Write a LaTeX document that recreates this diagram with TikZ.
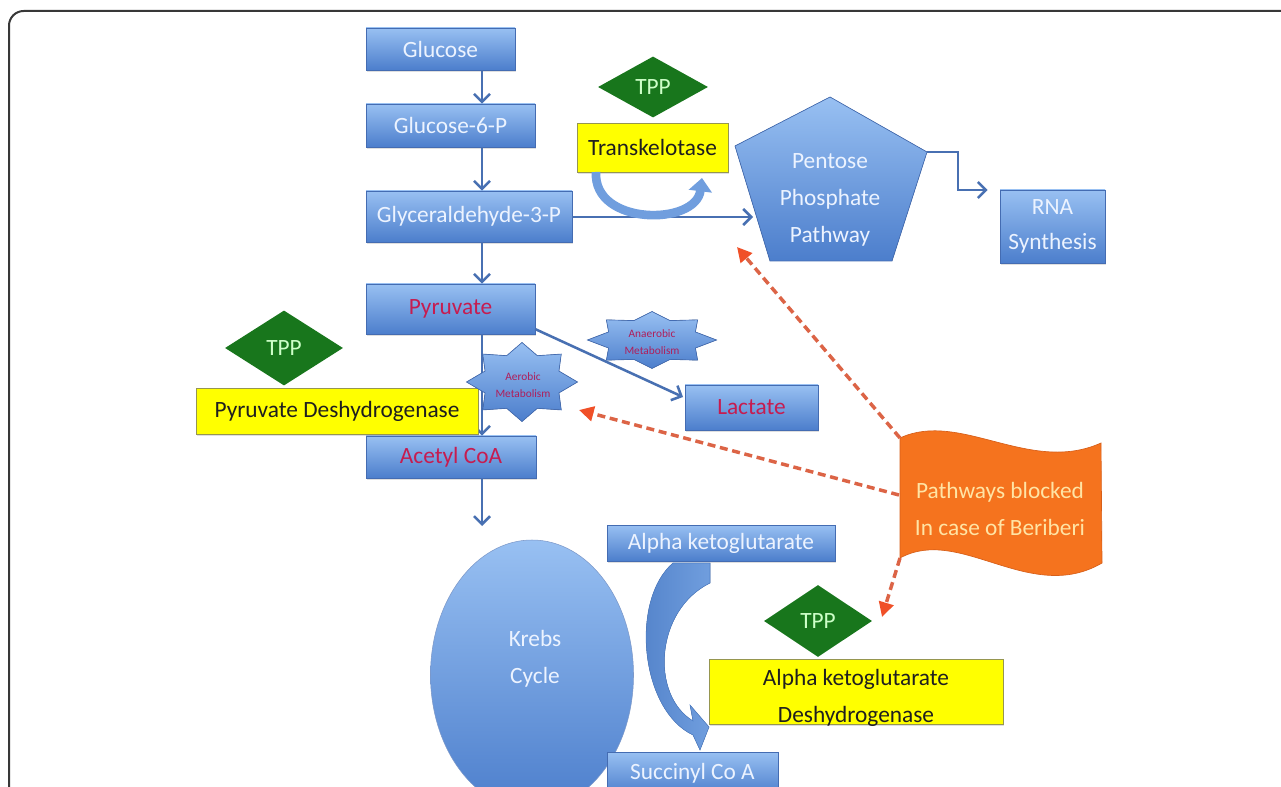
\documentclass[tikz,border=0pt]{standalone}
\usepackage{fontspec}
\setmainfont{Carlito}
\usetikzlibrary{shapes.geometric,arrows.meta,shadows,calc}

\definecolor{bluetop}{RGB}{152,192,242}
\definecolor{bluebot}{RGB}{76,126,204}
\definecolor{blueedge}{RGB}{68,108,178}
\definecolor{linecol}{RGB}{72,112,178}
\definecolor{boxtext}{RGB}{236,243,255}
\definecolor{redtext}{RGB}{198,28,80}
\definecolor{tppfill}{RGB}{24,118,28}
\definecolor{tpptext}{RGB}{205,255,200}
\definecolor{yel}{RGB}{255,255,0}
\definecolor{yeledge}{RGB}{150,150,80}
\definecolor{flagfill}{RGB}{245,115,30}
\definecolor{flagedge}{RGB}{215,95,25}
\definecolor{flagtext}{RGB}{255,228,165}
\definecolor{dashcol}{RGB}{220,100,70}
\definecolor{dashtip}{RGB}{240,80,40}
\definecolor{startext}{RGB}{175,30,90}
\definecolor{curvecol}{RGB}{112,158,222}
\definecolor{curvedark}{RGB}{80,128,200}

\newcommand{\dfont}{\fontsize{17.5}{27.75}\selectfont}
\newcommand{\sfontsmall}{\fontsize{8.5}{13}\selectfont}

\tikzset{
  framesty/.style={draw=black!78, line width=1.5pt, rounded corners=11pt},
  bluebox/.style={draw=blueedge, line width=0.5pt, top color=bluetop, bottom color=bluebot,
    text=boxtext, font=\dfont, inner sep=0pt,
    drop shadow={opacity=0.25, shadow xshift=0.8pt, shadow yshift=-1.5pt}},
  yelbox/.style={draw=yeledge, line width=0.6pt, fill=yel, text=black!88, font=\dfont, inner sep=0pt,
    drop shadow={opacity=0.25, shadow xshift=0.8pt, shadow yshift=-1.5pt}},
  tpp/.style={diamond, aspect=1.8, fill=tppfill, text=tpptext, font=\dfont, inner sep=0pt},
  kreb/.style={ellipse, draw=blueedge!70, line width=0.4pt, top color=bluetop, bottom color=bluebot},
  pentsty/.style={draw=blueedge, line width=0.5pt, top color=bluetop, bottom color=bluebot},
  starsty/.style={draw=blueedge, line width=0.5pt, top color=bluetop, bottom color=bluebot},
  startxt/.style={text=startext, font=\sfontsmall, align=center, inner sep=0pt},
  lighttxt/.style={text=boxtext, font=\dfont, align=center, inner sep=0pt},
  conn/.style={draw=linecol, line width=1.9pt, -{Straight Barb[length=6pt,width=12pt]}},
  curvy/.style={draw=curvecol, line width=6.5pt, -{Triangle[length=10pt,width=17pt]}},
  flagsty/.style={fill=flagfill, draw=flagedge, line width=0.5pt},
  dasharrow/.style={draw=dashcol, line width=2.6pt, dash pattern=on 6pt off 3.5pt,
    -{Triangle[length=11pt,width=11pt,fill=dashtip,color=dashtip]}}
}

\begin{document}
\begin{tikzpicture}[x=0.75pt,y=-0.75pt]
\useasboundingbox (0,0) rectangle (1281,787);
\clip (0,0) rectangle (1281,787);
\fill[white] (0,0) rectangle (1281,787);
\draw[framesty] (9,840) -- (9,11) -- (1330,11);

% ---- Krebs cycle ellipse (behind) ----
\node[kreb, minimum width=152.25pt, minimum height=202.5pt] (krebs) at (532,675) {};
\node[lighttxt] (krebslabel) at (535,659) {Krebs\\Cycle};

% ---- blue boxes ----
\node[bluebox, minimum width=111.75pt, minimum height=31.5pt] (glucose) at (440.5,49) {Glucose};
\node[bluebox, minimum width=126.75pt, minimum height=32.25pt] (g6p) at (450.5,125.5) {Glucose-6-P};
\node[bluebox, minimum width=154.5pt, minimum height=38.25pt] (glyc) at (469,216.5) {Glyceraldehyde-3-P};
\node[bluebox, text=redtext, minimum width=126.75pt, minimum height=37.5pt] (pyr) at (450.5,309) {Pyruvate};
\node[bluebox, text=redtext, minimum width=127.5pt, minimum height=31.5pt] (acetyl) at (451,457) {Acetyl CoA};
\node[bluebox, text=redtext, minimum width=99.75pt, minimum height=33.75pt] (lac) at (751.5,407.5) {Lactate};
\node[bluebox, align=center, font=\fontsize{17.5}{26}\selectfont, minimum width=78.75pt, minimum height=54.75pt] (rna) at (1052.5,226.5) {RNA\\Synthesis};
\node[bluebox, minimum width=171pt, minimum height=27pt] (akg) at (721,543) {Alpha ketoglutarate};
\node[bluebox, minimum width=128.25pt, minimum height=32.25pt] (succ) at (692.5,773.5) {Succinyl Co A};

% ---- pentagon ----
\coordinate (pT) at (830,97);
\coordinate (pR) at (927,152);
\coordinate (pBR) at (892,261);
\coordinate (pBL) at (770,261);
\coordinate (pL) at (735,146);
\filldraw[pentsty] (pT) -- (pR) -- (pBR) -- (pBL) -- (pL) -- cycle;
\node[lighttxt] (ppp) at (830,200) {Pentose\\Phosphate\\Pathway};

% ---- connectors ----
\coordinate (vx) at (482,0);
\draw[conn] (glucose.south -| vx) -- (g6p.north -| vx);
\draw[conn] (g6p.south -| vx) -- (glyc.north -| vx);
\draw[conn] (glyc.south -| vx) -- (pyr.north -| vx);
\draw[conn] (pyr.south -| vx) -- (acetyl.north -| vx);
\coordinate (kin) at (482,526);
\draw[conn] (acetyl.south -| vx) -- (kin);
\coordinate (gy) at (0,217);
\coordinate (pentin) at (753,217);
\draw[conn] (glyc.east |- gy) -- (pentin);
\coordinate (ry) at (0,190);
\draw[conn, shorten >=9pt] (pR) -- ++(31,0) |- (rna.west |- ry);
\coordinate (pyrout) at (535,329);
\coordinate (lacin) at (683,397);
\draw[conn] (pyrout) -- (lacin);

% ---- yellow enzyme boxes ----
\node[yelbox, minimum width=113.25pt, minimum height=36.75pt] (transk) at (652.5,147.5) {Transkelotase};
\node[yelbox, minimum width=211.5pt, minimum height=34.5pt] (pdh) at (337,411) {Pyruvate Deshydrogenase};
\node[yelbox, minimum width=220.5pt, minimum height=48.75pt] (akgdh) at (856,691.5) {};
\node[text=black!88, font=\dfont, align=center, inner sep=0pt] (akgdhlabel) at (856,698) {Alpha ketoglutarate\\Deshydrogenase};

% ---- TPP diamonds ----
\node[tpp, minimum width=82.5pt, minimum height=45.75pt] (tpp1) at (653,87) {TPP};
\node[tpp, minimum width=88.5pt, minimum height=56.25pt] (tpp2) at (284,348) {TPP};
\node[tpp, minimum width=81pt, minimum height=54pt] (tpp3) at (818,621) {TPP};

% ---- stars ----
\filldraw[starsty, shift={(522,382)}] (0:55.5 and 39.5)
  \foreach \a in {0,45,...,315}{ -- ({\a+22.5}:40 and 28.5) -- ({\a+45}:55.5 and 39.5)} -- cycle;
\node[startxt] (aerobic) at (523,385) {Aerobic\\Metabolism};
\filldraw[starsty, shift={(652,340)}] (0:64.5 and 28.5)
  \foreach \a in {0,45,...,315}{ -- ({\a+22.5}:47 and 21) -- ({\a+45}:64.5 and 28.5)} -- cycle;
\node[startxt] (anaerobic) at (652,342) {Anaerobic\\Metabolism};

% ---- curved arrows ----
\coordinate (tkA) at (596,172);
\coordinate (tkB) at (702,178);
\draw[curvy] (tkA) .. controls (593,226) and (696,226) .. (tkB);

\coordinate (ak1) at (673,563);
\coordinate (ak2) at (710,563);
\coordinate (ak3) at (710,583);
\coordinate (ak4) at (693,721);
\coordinate (ak5) at (690,705);
\coordinate (ak6) at (709,727);
\coordinate (ak7) at (700,750);
\coordinate (ak8) at (693,735);
\filldraw[draw=curvedark, line width=0.4pt, left color=curvedark, right color=curvecol]
  (ak1) -- (ak2) -- (ak3) .. controls (655,610) and (650,695) .. (ak4) -- (ak5) -- (ak6) -- (ak7) -- (ak8)
  .. controls (640,710) and (630,600) .. (ak1) -- cycle;

% ---- flag ----
\coordinate (fTL) at (900,438);
\coordinate (fTR) at (1101,443);
\coordinate (fBR) at (1102,563);
\coordinate (fBL) at (900,558);
\filldraw[flagsty] (fTL) .. controls (960,410) and (1030,475) .. (fTR) -- (fBR)
  .. controls (1030,605) and (960,525) .. (fBL) -- cycle;
\node[text=flagtext, font=\dfont, align=center, inner sep=0pt] (flag) at (1000,509) {Pathways blocked\\In case of Beriberi};

% ---- dashed red arrows ----
\coordinate (fL) at (899,495);
\coordinate (d1) at (737,247);
\coordinate (d2) at (579,410);
\coordinate (d3) at (882,617);
\draw[dasharrow] (fTL) -- (d1);
\draw[dasharrow] (fL) -- (d2);
\draw[dasharrow] (fBL) -- (d3);
\end{tikzpicture}
\end{document}
